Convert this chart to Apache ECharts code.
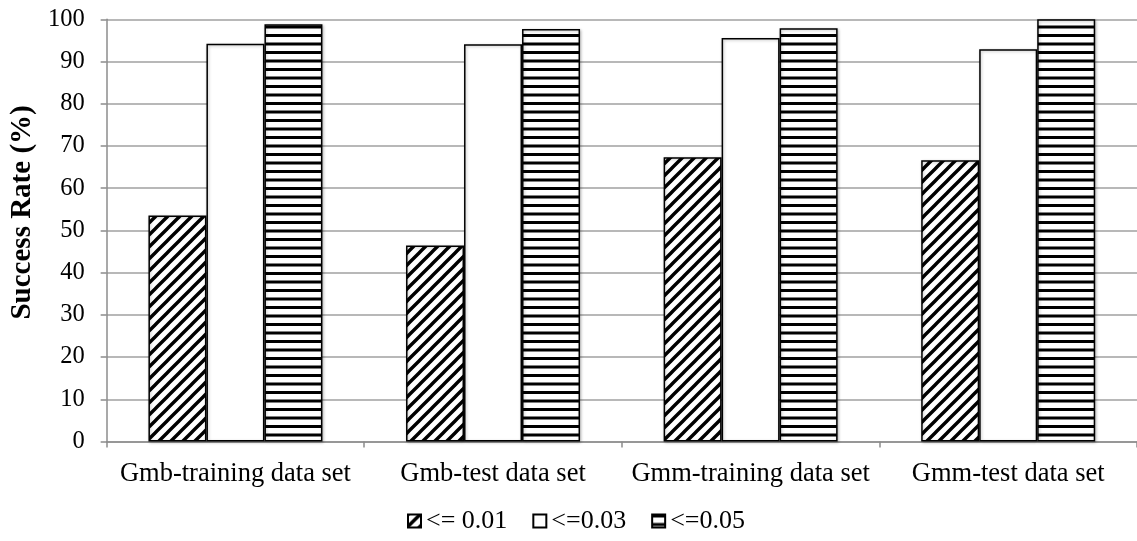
<!DOCTYPE html>
<html>
<head>
<meta charset="utf-8">
<script src="https://cdn.jsdelivr.net/npm/echarts@6/dist/echarts.min.js"></script>
<style>
html,body{margin:0;padding:0;background:#fff;}
#chart{width:1137px;height:541px;}
</style>
</head>
<body>
<div id="chart"></div>
<script>
const categories = ['Gmb-training data set', 'Gmb-test data set', 'Gmm-training data set', 'Gmm-test data set'];
const seriesNames = ['<= 0.01', '<=0.03', '<=0.05'];
const le001 = [53.5, 46.4, 67.3, 66.6];
const le003 = [94.2, 94.1, 95.6, 92.9];
const le005 = [98.8, 97.7, 97.9, 100];
const yTicks = [0, 10, 20, 30, 40, 50, 60, 70, 80, 90, 100];

function hatchPattern() {
  const p = 12;
  const c = document.createElement('canvas');
  c.width = p; c.height = p;
  const g = c.getContext('2d');
  g.fillStyle = '#fff'; g.fillRect(0, 0, p, p);
  g.strokeStyle = '#000'; g.lineWidth = 3.4;
  g.beginPath();
  [0, p, 2 * p].forEach(k => { g.moveTo(k + p, -p); g.lineTo(-p, k + p); });
  g.stroke();
  return c;
}
function stripePattern() {
  const c = document.createElement('canvas');
  c.width = 4; c.height = 17;
  const g = c.getContext('2d');
  g.fillStyle = '#fff'; g.fillRect(0, 0, 4, 17);
  g.fillStyle = '#000';
  g.fillRect(0, 0, 4, 3);
  g.fillRect(0, 8.5, 4, 3);
  return c;
}

const font = '"Liberation Serif", "Times New Roman", serif';
const chart = echarts.init(document.getElementById('chart'), null, {renderer: 'canvas'});
const barStyle = (fill) => ({
  color: fill,
  borderColor: '#000',
  borderWidth: 1.5,
  shadowColor: 'rgba(0,0,0,0.25)',
  shadowBlur: 3,
  shadowOffsetX: 1,
  shadowOffsetY: 1
});
const data = [le001, le003, le005];
const fills = [
  {image: hatchPattern(), repeat: 'repeat'},
  '#ffffff',
  {image: stripePattern(), repeat: 'repeat'}
];

chart.setOption({
  animation: false,
  backgroundColor: '#fff',
  grid: {left: 106, right: -5, top: 19.3, bottom: 99.5, containLabel: false},
  legend: {
    top: 503,
    left: 402,
    icon: 'rect',
    itemWidth: 13,
    itemHeight: 13,
    itemGap: 25,
    textStyle: {fontFamily: font, fontSize: 26, color: '#000'},
    data: seriesNames
  },
  xAxis: {
    type: 'category',
    data: categories,
    axisLine: {lineStyle: {color: '#8c8c8c', width: 1.5}},
    axisTick: {show: true, length: 6, lineStyle: {color: '#8c8c8c', width: 1.5}},
    axisLabel: {fontFamily: font, fontSize: 26.5, color: '#000', margin: 19, interval: 0}
  },
  yAxis: {
    type: 'value',
    min: 0, max: 100, interval: 10,
    name: 'Success Rate (%)',
    nameLocation: 'middle',
    nameRotate: 90,
    nameGap: 66,
    nameTextStyle: {fontFamily: font, fontSize: 29, fontWeight: 'bold', color: '#000', padding: [0, 0, 0, 36]},
    axisLine: {show: true, lineStyle: {color: '#8c8c8c', width: 1.5}},
    axisTick: {show: true, length: 6, lineStyle: {color: '#8c8c8c', width: 1.5}},
    axisLabel: {fontFamily: font, fontSize: 24.5, color: '#000', margin: 22,
      formatter: v => yTicks.includes(v) ? String(v) : ''},
    splitLine: {show: true, lineStyle: {color: '#a0a0a0', width: 1.5}}
  },
  series: seriesNames.map((n, i) => ({
    name: n,
    type: 'bar',
    data: data[i],
    barWidth: 58,
    barGap: '0%',
    itemStyle: barStyle(fills[i])
  }))
});
</script>
</body>
</html>
